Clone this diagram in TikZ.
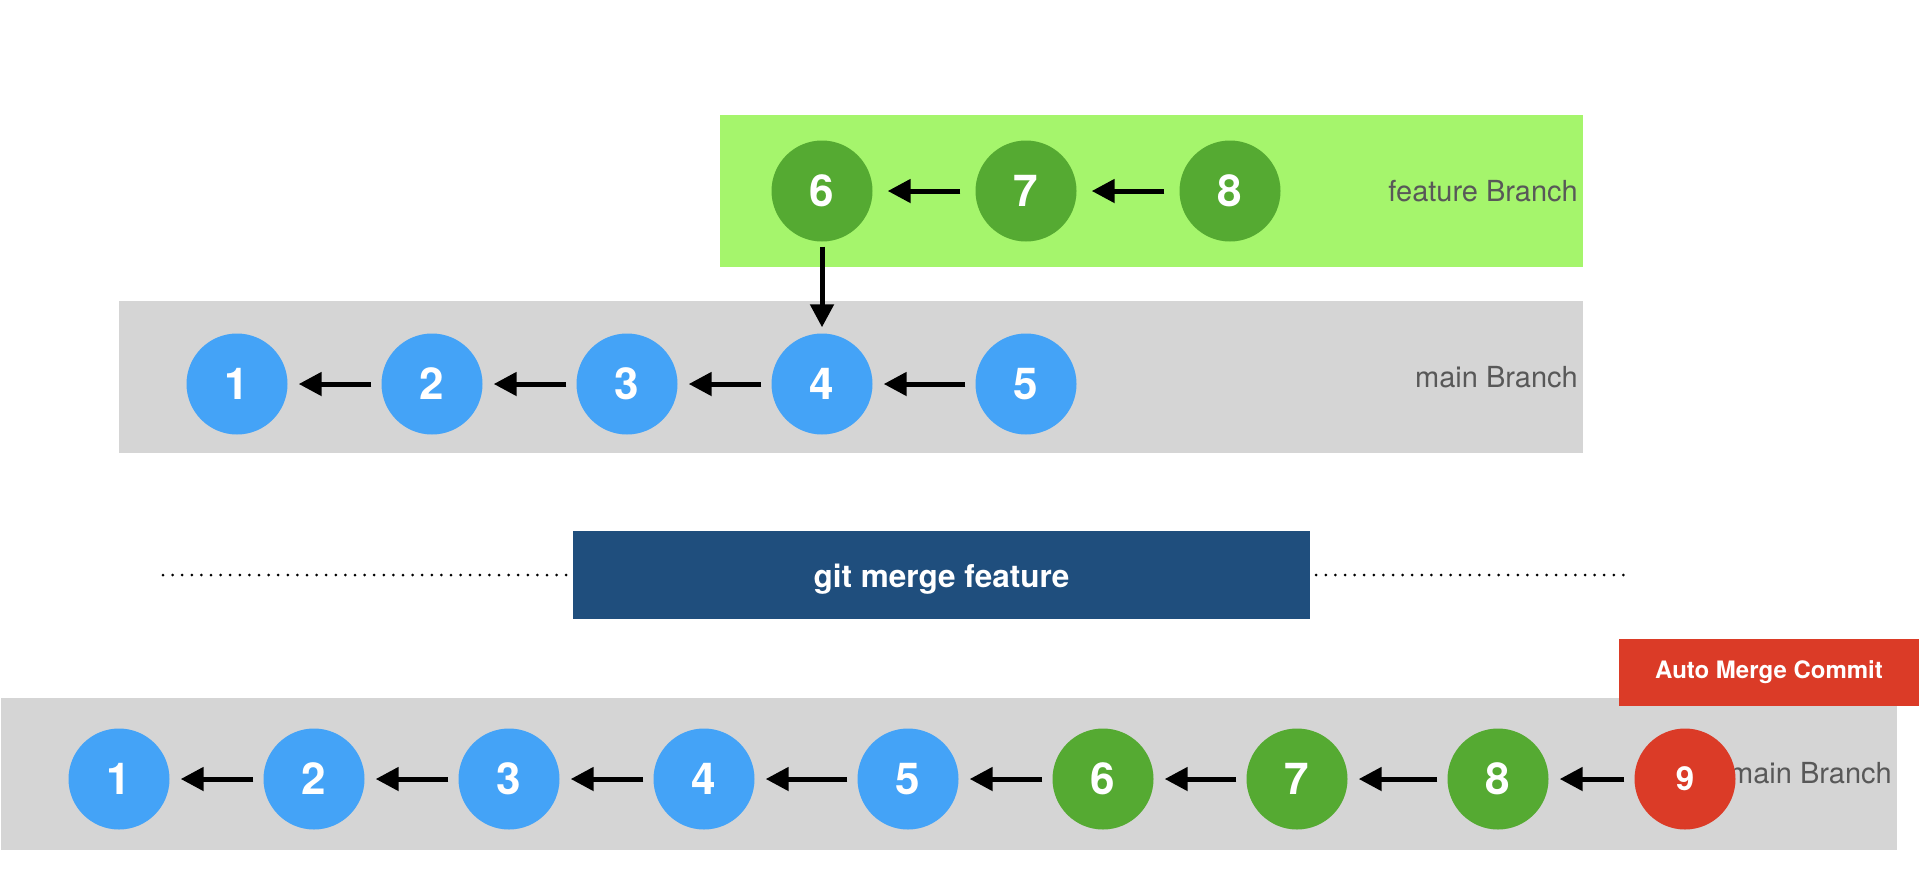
\documentclass[tikz,border=0pt]{standalone}
\usepackage{fontspec}
\setmainfont{TeX Gyre Heros}
\usetikzlibrary{arrows.meta}
\definecolor{lanegray}{HTML}{D5D5D5}
\definecolor{lanegreen}{HTML}{A5F56C}
\definecolor{cgreen}{HTML}{55AA32}
\definecolor{cblue}{HTML}{44A3F7}
\definecolor{cred}{HTML}{DB3B27}
\definecolor{darkbox}{HTML}{1F4E7D}
\definecolor{labelgray}{HTML}{585858}
\tikzset{
  commit/.style={circle,minimum size=101pt,inner sep=0pt,text=white,
    font=\fontsize{44}{44}\selectfont\bfseries},
  conn/.style={line width=5pt,-{Triangle[length=23pt,width=23pt]},shorten >=11pt,shorten <=10pt},
  lanelabel/.style={anchor=base east,inner sep=0pt,text=labelgray,font=\fontsize{29}{29}\selectfont},
  dots/.style={line width=3pt,line cap=round,dash pattern=on 0pt off 9.6pt},
}
\begin{document}
\begin{tikzpicture}[x=1pt,y=-1pt]
\useasboundingbox (0,0) rectangle (1924,892);
\fill[white] (0,0) rectangle (1924,892);

% lanes
\fill[lanegreen] (720,115) rectangle (1583,267);
\fill[lanegray] (119,301) rectangle (1583,453);
\fill[lanegray] (1,698) rectangle (1897,850);

\node[lanelabel] (lf) at (1578,201) {feature Branch};
\node[lanelabel] (lm) at (1578,387) {main Branch};
\node[lanelabel] (lb) at (1892,783) {main Branch};

% top feature branch
\node[commit,fill=cgreen] (f6) at (822,191) {6};
\node[commit,fill=cgreen] (f7) at (1026,191) {7};
\node[commit,fill=cgreen] (f8) at (1230,191) {8};

% top main branch
\node[commit,fill=cblue] (m1) at (237,384) {1};
\node[commit,fill=cblue] (m2) at (432,384) {2};
\node[commit,fill=cblue] (m3) at (627,384) {3};
\node[commit,fill=cblue] (m4) at (822,384) {4};
\node[commit,fill=cblue] (m5) at (1026,384) {5};

\draw[conn,shorten >=15pt,shorten <=15pt] (f7) -- (f6);
\draw[conn,shorten >=15pt,shorten <=15pt] (f8) -- (f7);
\draw[conn] (m2) -- (m1);
\draw[conn] (m3) -- (m2);
\draw[conn] (m4) -- (m3);
\draw[conn] (m5) -- (m4);
\draw[conn,shorten <=5pt,shorten >=6pt] (f6) -- (m4);

% merge command
\node[fill=darkbox,minimum width=737pt,minimum height=88pt,inner sep=0pt] (cmd) at (941.5,575) {};
\node[inner sep=0pt,text=white,font=\fontsize{31.5}{31.5}\selectfont\bfseries]
  (cmdt) at ([yshift=-4pt]cmd.center) {git merge feature};
\coordinate (dl) at (163,575);
\coordinate (dr) at (1627,575);
\draw[dots] (dl) -- ([xshift=-6pt]cmd.west);
\draw[dots] ([xshift=6pt]cmd.east) -- (dr);

% red label
\node[fill=cred,minimum width=300pt,minimum height=67pt,inner sep=0pt,text=white,
  font=\fontsize{24}{24}\selectfont\bfseries] (amc) at (1769,672.5) {Auto Merge Commit};

% bottom merged main branch
\node[commit,fill=cblue] (b1) at (119,779) {1};
\node[commit,fill=cblue] (b2) at (314,779) {2};
\node[commit,fill=cblue] (b3) at (509,779) {3};
\node[commit,fill=cblue] (b4) at (704,779) {4};
\node[commit,fill=cblue] (b5) at (908,779) {5};
\node[commit,fill=cgreen] (b6) at (1103,779) {6};
\node[commit,fill=cgreen] (b7) at (1297,779) {7};
\node[commit,fill=cgreen] (b8) at (1498,779) {8};
\node[commit,fill=cred,font=\fontsize{33}{33}\selectfont\bfseries] (b9) at (1685,779) {9};

\draw[conn] (b2) -- (b1);
\draw[conn] (b3) -- (b2);
\draw[conn] (b4) -- (b3);
\draw[conn] (b5) -- (b4);
\draw[conn] (b6) -- (b5);
\draw[conn] (b7) -- (b6);
\draw[conn] (b8) -- (b7);
\draw[conn] (b9) -- (b8);
\end{tikzpicture}
\end{document}
